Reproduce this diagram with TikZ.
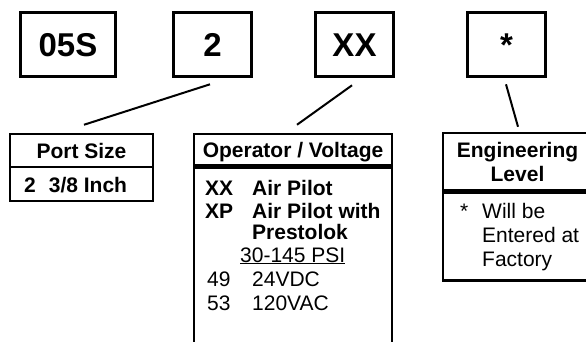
\documentclass[tikz,border=0pt]{standalone}
\usepackage{fontspec}
\setmainfont{Liberation Sans}
\usetikzlibrary{positioning}

\newcommand{\bigfont}{\bfseries\fontsize{33}{33}\selectfont}
\newcommand{\tabfont}{\fontsize{21}{24}\selectfont}

\begin{document}
\begin{tikzpicture}[
  x = 1pt, y = -1pt,
  codebox/.style = {draw, line width = 2.6pt, inner sep = 0pt,
    minimum width = 78.5pt, minimum height = 64.5pt,
    font = \bigfont, text height = 23.5pt, text depth = 0pt},
  tabbox/.style = {draw, line width = 2.5pt, inner sep = 0pt},
  head/.style = {tabbox, font = \tabfont\bfseries,
    text height = 15pt, text depth = 0pt},
  entry/.style = {anchor = base west, inner sep = 0pt, font = \tabfont},
  bentry/.style = {entry, font = \tabfont\bfseries},
  link/.style = {line width = 2pt},
]

  \useasboundingbox (0,0) rectangle (586,341);
  \clip (0,0) rectangle (586,341);

  % code boxes
  \node[codebox, minimum width = 95.5pt] (code1) at (68,44.5) {05S};
  \node[codebox] (code2) at (212.5,44.5) {2};
  \node[codebox] (code3) at (354.5,44.5) {XX};
  \node[codebox] (code4) at (506.5,44.5) {*};

  % port size
  \node[head, minimum width = 143pt, minimum height = 33pt] (porthead) at (81.5,150.5) {Port Size};
  \node[tabbox, minimum width = 143pt, minimum height = 34pt] (portbody) at (81.5,184) {};
  \node[bentry] (port2) at (24,192) {2\hspace{13pt}3/8 Inch};

  % operator / voltage
  \node[head, minimum width = 198pt, minimum height = 31pt] (operhead) at (293,149.5) {Operator / Voltage};
  \node[tabbox, minimum width = 198pt, minimum height = 195pt, anchor = north] (operbody) at (operhead.south) {};
  \node[bentry] (opxx) at (205,195) {XX};
  \node[bentry] (opxxt) at (252,195) {Air Pilot};
  \node[bentry] (opxp) at (205,218) {XP};
  \node[bentry] (opxpt) at (252,218) {Air Pilot with};
  \node[bentry] (opxpu) at (252,239) {Prestolok};
  \node[entry] (oppsi) at (240,262) {\underline{30-145 PSI}};
  \node[entry] (op49) at (207,286) {49};
  \node[entry] (op49t) at (252,286) {24VDC};
  \node[entry] (op53) at (207,310) {53};
  \node[entry] (op53t) at (252,310) {120VAC};

  % engineering level
  \node[tabbox, minimum width = 149pt, minimum height = 57pt, align = center,
    font = \tabfont\bfseries] (enghead) at (517.5,161.5) {Engineering\\Level};
  \node[tabbox, minimum width = 149pt, minimum height = 88pt, anchor = north] (engbody) at (enghead.south) {};
  \node[entry] (engstar) at (460,218) {*};
  \node[entry] (eng1) at (482,218) {Will be};
  \node[entry] (eng2) at (482,242) {Entered at};
  \node[entry] (eng3) at (482,266) {Factory};

  % connectors
  \draw[link] ([shift={(-2.5,6.25)}]code2.south) -- ([shift={(2.5,-8)}]porthead.north);
  \draw[link] ([shift={(-2.5,7.25)}]code3.south) -- ([shift={(4,-8)}]operhead.north);
  \draw[link] ([shift={(-0.5,6.25)}]code4.south) -- ([shift={(0.5,-5)}]enghead.north);

\end{tikzpicture}
\end{document}
